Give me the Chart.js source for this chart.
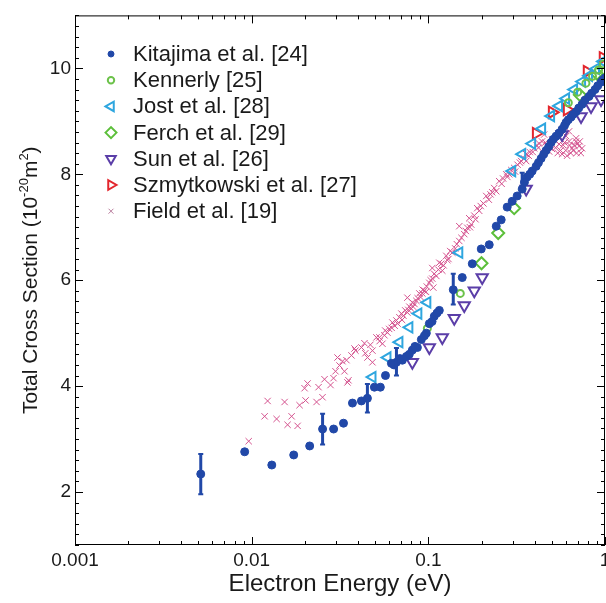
<!DOCTYPE html>
<html>
<head>
<meta charset="utf-8">
<script src="https://cdn.jsdelivr.net/npm/chart.js@4/dist/chart.umd.min.js"></script>
<style>
html, body { margin: 0; padding: 0; background: #fff; overflow: hidden; }
#wrap { width: 620px; height: 603px; }
</style>
</head>
<body>
<div id="wrap"><canvas id="chart" width="620" height="603"></canvas></div>
<script>
// Eixos
const xMajorTicks = [0.001, 0.01, 0.1, 1];
const xTickLabels = ['0.001', '0.01', '0.1', '1'];
const yMajorTicks = [2, 4, 6, 8, 10];
const yTickLabels = ['2', '4', '6', '8', '10'];

// Kitajima et al. [24]
const kitE = [0.00515, 0.00913, 0.0130, 0.0173, 0.0213, 0.0252, 0.0291, 0.0331, 0.0372, 0.0418,
  0.0452, 0.0495, 0.0535, 0.0572, 0.0618, 0.0660, 0.0713, 0.0751, 0.0812, 0.0867,
  0.0913, 0.0974, 0.1013, 0.1081, 0.1154, 0.1384, 0.1556, 0.1773, 0.1993, 0.2212,
  0.2423, 0.2585, 0.2795, 0.2983, 0.3183, 0.3398, 0.3626, 0.3870, 0.4076, 0.4350,
  0.4642, 0.4953, 0.5287, 0.5716, 0.6021, 0.6426, 0.6858, 0.7416, 0.8121, 0.8780,
  0.9493, 1.0,
  0.064, 0.069, 0.078, 0.084, 0.095, 0.105, 0.112, 0.35, 0.375, 0.42,
  0.45, 0.48, 0.51, 0.55, 0.59, 0.62, 0.66, 0.71, 0.77, 0.84,
  0.91, 0.97];
const kitQ = [2.34, 2.76, 2.51, 2.70, 2.87, 3.19, 3.19, 3.30, 3.68, 3.72,
  3.77, 3.98, 3.98, 4.20, 4.43, 4.45, 4.49, 4.56, 4.68, 4.73,
  4.88, 5.00, 5.18, 5.32, 5.43, 5.82, 6.05, 6.31, 6.59, 6.67,
  7.02, 7.14, 7.38, 7.49, 7.59, 7.72, 7.95, 8.06, 8.15, 8.30,
  8.45, 8.60, 8.72, 8.85, 8.98, 9.08, 9.18, 9.32, 9.47, 9.60,
  9.74, 9.82,
  4.40, 4.52, 4.60, 4.75, 4.95, 5.22, 5.38, 7.85, 8.00, 8.22,
  8.38, 8.52, 8.66, 8.78, 8.92, 9.03, 9.13, 9.25, 9.40, 9.53,
  9.67, 9.78];
// barras de erro (Kitajima)
const errE = [0.00515, 0.0252, 0.0452, 0.0660, 0.1384, 0.3398];
const errQ = [2.34, 3.19, 3.77, 4.46, 5.83, 7.85];
const errD = [0.38, 0.29, 0.27, 0.26, 0.29, 0.18];

// Kennerly [25]
const kenE = [0.0987, 0.1517, 0.62, 0.70, 0.78, 0.85, 0.92, 0.98];
const kenQ = [5.09, 5.75, 9.35, 9.55, 9.72, 9.85, 9.97, 10.08];

// Jost et al. [28]
const jostE = [0.0483, 0.0587, 0.0686, 0.0781, 0.0878, 0.0987, 0.1497, 0.2983, 0.3398, 0.3870,
  0.4406, 0.4953, 0.5496, 0.6021, 0.6683, 0.7416, 0.8121, 0.8897, 0.9743];
const jostQ = [4.17, 4.54, 4.83, 5.11, 5.37, 5.58, 6.52, 8.06, 8.38, 8.58,
  8.86, 9.10, 9.29, 9.43, 9.60, 9.75, 9.86, 9.99, 10.13];

// Ferch et al. [29]
const ferchE = [0.200, 0.2486, 0.3062, 0.72, 0.90];
const ferchQ = [6.32, 6.89, 7.36, 9.50, 9.90];

// Sun et al. [26]
const sunE = [0.0812, 0.1013, 0.1200, 0.1402, 0.1597, 0.1820, 0.2018, 0.3579, 0.5716, 0.7319, 0.8337, 0.9493];
const sunQ = [4.45, 4.73, 4.92, 5.28, 5.52, 5.80, 6.05, 7.72, 8.75, 9.09, 9.28, 9.41];

// Szmytkowski et al. [27]
const szmE = [0.4076, 0.5019, 0.6100, 0.7912, 0.9743];
const szmQ = [8.77, 9.17, 9.22, 9.94, 10.20];

// Field et al. [19]
const fieldE = [0.00962, 0.01184, 0.01231, 0.01384, 0.01536, 0.01597, 0.01683, 0.01820, 0.01867, 0.01993,
  0.02019, 0.02073, 0.02330, 0.02391, 0.02518, 0.02585, 0.02795, 0.02906, 0.02983, 0.03062,
  0.03142, 0.03267, 0.03353, 0.03441, 0.03486, 0.03532, 0.03673, 0.03819, 0.03869, 0.04183,
  0.04349, 0.04523, 0.04827, 0.04827, 0.05084, 0.05287, 0.05642, 0.05867, 0.0600, 0.06261,
  0.0645, 0.06596, 0.06859, 0.07040, 0.07226, 0.0740, 0.07610, 0.07610, 0.07811, 0.0800,
  0.08121, 0.0835, 0.08556, 0.08896, 0.0905, 0.09250, 0.0950, 0.0980, 0.1013, 0.1053,
  0.1053, 0.1067, 0.1110, 0.1154, 0.1184, 0.1200, 0.1264, 0.1300, 0.1367, 0.1420,
  0.1497, 0.1497, 0.1540, 0.1597, 0.1661, 0.1704, 0.1750, 0.1820, 0.1891, 0.1941,
  0.2050, 0.2127, 0.2250, 0.2360, 0.2423, 0.2518, 0.2650, 0.2759, 0.2868, 0.2950,
  0.3062, 0.3200, 0.3353, 0.3480, 0.3579, 0.3579, 0.3750, 0.3971, 0.4100, 0.4238,
  0.4400, 0.4523, 0.4700, 0.4827, 0.5019, 0.5250, 0.5496, 0.5600, 0.5716, 0.5900,
  0.6021, 0.6261, 0.6261, 0.6400, 0.6510, 0.6700, 0.6858, 0.6858, 0.7130, 0.7416,
  0.044, 0.047, 0.053, 0.055, 0.057, 0.062, 0.067, 0.071, 0.077, 0.082,
  0.087, 0.093, 0.097, 0.103, 0.108, 0.114, 0.122, 0.128, 0.133, 0.145,
  0.163, 0.172, 0.185, 0.198, 0.22, 0.23, 0.26, 0.28, 0.31, 0.33,
  0.37, 0.39, 0.42, 0.46, 0.50, 0.53, 0.54, 0.58, 0.60, 0.61,
  0.63, 0.66, 0.69, 0.70, 0.72, 0.73];
const fieldQ = [2.96, 3.43, 3.72, 3.38, 3.70, 3.27, 3.43, 3.25, 3.64, 3.96,
  3.73, 4.05, 3.70, 3.98, 3.79, 4.13, 4.02, 4.15, 4.28, 4.54,
  4.39, 4.47, 4.28, 4.49, 4.07, 4.11, 4.58, 4.71, 4.67, 4.73,
  4.81, 4.54, 4.67, 4.45, 4.92, 4.92, 4.96, 5.01, 5.08, 5.20,
  5.14, 5.24, 5.30, 5.37, 5.33, 5.43, 5.39, 5.67, 5.50, 5.46,
  5.58, 5.55, 5.61, 5.75, 5.68, 5.75, 5.80, 5.88, 5.95, 6.03,
  6.23, 5.86, 6.08, 6.33, 6.31, 6.18, 6.46, 6.40, 6.52, 6.60,
  6.74, 7.02, 6.80, 6.87, 6.99, 7.17, 7.05, 7.22, 7.36, 7.31,
  7.45, 7.59, 7.62, 7.74, 7.68, 7.87, 7.92, 8.00, 8.00, 8.08,
  8.12, 8.18, 8.25, 8.30, 8.38, 8.25, 8.42, 8.49, 8.55, 8.58,
  8.62, 8.75, 8.55, 8.43, 8.66, 8.50, 8.57, 8.45, 8.38, 8.60,
  8.72, 8.81, 8.62, 8.40, 8.49, 8.55, 8.62, 8.68, 8.53, 8.49,
  4.62, 4.78, 4.85, 4.80, 5.05, 5.10, 5.18, 5.25, 5.44, 5.50,
  5.66, 5.82, 5.78, 6.00, 6.12, 6.20, 6.28, 6.38, 6.55, 6.68,
  6.93, 7.00, 7.15, 7.40, 7.52, 7.66, 7.82, 7.95, 8.05, 8.22,
  8.35, 8.42, 8.50, 8.60, 8.48, 8.62, 8.40, 8.55, 8.45, 8.35,
  8.55, 8.45, 8.40, 8.58, 8.62, 8.40];

const FONT = '"Liberation Sans", Arial, Helvetica, sans-serif';
const TRANSP = 'rgba(0,0,0,0)';

function pts(xs, ys) {
    return xs.map((x, i) => ({ x: x, y: ys[i] }));
}

// Moldura com marcas para dentro
const framePlugin = {
    id: 'frame',
    afterDatasetsDraw(chart) {
        const { ctx, chartArea: ca, scales: { x, y } } = chart;
        ctx.save();
        ctx.strokeStyle = '#000';
        ctx.lineWidth = 1;
        ctx.strokeRect(ca.left + 0.5, ca.top + 0.5, ca.right - ca.left - 1, ca.bottom - ca.top - 1);
        ctx.beginPath();
        for (let d = -3; d <= 0; d++) {
            for (let k = 1; k <= 9; k++) {
                const v = k * Math.pow(10, d);
                if (v < x.min || v > x.max) continue;
                const px = Math.round(x.getPixelForValue(v)) + 0.5;
                const len = k === 1 ? 8 : 4;
                ctx.moveTo(px, ca.bottom); ctx.lineTo(px, ca.bottom - len);
                ctx.moveTo(px, ca.top); ctx.lineTo(px, ca.top + len);
            }
        }
        for (let i = 5; i <= 55; i++) {
            const v = i / 5;
            const py = Math.round(y.getPixelForValue(v)) + 0.5;
            const len = (i % 10 === 0) ? 8 : 4;
            ctx.moveTo(ca.left, py); ctx.lineTo(ca.left + len, py);
            ctx.moveTo(ca.right, py); ctx.lineTo(ca.right - len, py);
        }
        ctx.stroke();
        ctx.restore();
    }
};

// Barras de erro
const errorBarPlugin = {
    id: 'errorBars',
    afterDatasetsDraw(chart) {
        const { ctx, scales: { x, y } } = chart;
        ctx.save();
        ctx.strokeStyle = '#2148a8';
        errE.forEach((e, i) => {
            const px = x.getPixelForValue(e);
            const top = y.getPixelForValue(errQ[i] + errD[i]);
            const bot = y.getPixelForValue(errQ[i] - errD[i]);
            ctx.lineWidth = 3;
            ctx.beginPath();
            ctx.moveTo(px, top); ctx.lineTo(px, bot);
            ctx.stroke();
            ctx.lineWidth = 2;
            ctx.beginPath();
            ctx.moveTo(px - 2.5, top); ctx.lineTo(px + 2.5, top);
            ctx.moveTo(px - 2.5, bot); ctx.lineTo(px + 2.5, bot);
            ctx.stroke();
        });
        ctx.restore();
    }
};

// Legenda dentro da área do gráfico
const legendPlugin = {
    id: 'insideLegend',
    afterDraw(chart) {
        const { ctx } = chart;
        const startY = 54, step = 26.2, markX = 111, textX = 133;
        ctx.save();
        ctx.font = '22px ' + FONT;
        ctx.textBaseline = 'middle';
        ctx.textAlign = 'left';
        chart.data.datasets.forEach((ds, i) => {
            const yy = startY + i * step;
            ctx.strokeStyle = ds.legendColor || ds.borderColor;
            ctx.fillStyle = ds.backgroundColor;
            ctx.lineWidth = ds.borderWidth;
            Chart.helpers.drawPoint(ctx, {
                pointStyle: ds.pointStyle,
                radius: ds.legendRadius,
                rotation: ds.pointRotation || 0,
                borderWidth: ds.borderWidth
            }, markX, yy);
            ctx.fillStyle = '#1a1a1a';
            ctx.fillText(ds.label, textX, yy + 1);
        });
        ctx.restore();
    }
};

// Título do eixo Y com sobrescritos
const yTitleParts = ['Total Cross Section (10', '-20', 'm', '2', ')'];
const yTitleSup = [false, true, false, true, false];
const yTitlePlugin = {
    id: 'yTitle',
    afterDraw(chart) {
        const { ctx, chartArea: ca } = chart;
        const big = '21px ' + FONT, small = '13px ' + FONT;
        ctx.save();
        ctx.translate(29, (ca.top + ca.bottom) / 2);
        ctx.rotate(-Math.PI / 2);
        ctx.fillStyle = '#1a1a1a';
        ctx.textBaseline = 'alphabetic';
        let total = 0;
        const widths = yTitleParts.map((t, i) => {
            ctx.font = yTitleSup[i] ? small : big;
            const w = ctx.measureText(t).width;
            total += w;
            return w;
        });
        let cx = -total / 2;
        yTitleParts.forEach((t, i) => {
            ctx.font = yTitleSup[i] ? small : big;
            ctx.fillText(t, cx, yTitleSup[i] ? -1 : 8);
            cx += widths[i];
        });
        ctx.restore();
    }
};

const ctx = document.getElementById('chart').getContext('2d');
new Chart(ctx, {
    type: 'scatter',
    data: {
        datasets: [
            {
                label: 'Kitajima et al. [24]',
                data: pts(kitE, kitQ),
                pointStyle: 'circle', pointRadius: 4, legendRadius: 3,
                borderColor: '#2148a8', backgroundColor: '#2148a8', borderWidth: 1
            },
            {
                label: 'Kennerly [25]',
                data: pts(kenE, kenQ),
                pointStyle: 'circle', pointRadius: 3.5, legendRadius: 3.2,
                borderColor: '#6cc24a', backgroundColor: TRANSP, borderWidth: 2
            },
            {
                label: 'Jost et al. [28]',
                data: pts(jostE, jostQ),
                pointStyle: 'triangle', pointRotation: -90, pointRadius: 6, legendRadius: 5.5,
                borderColor: '#2ea6df', backgroundColor: TRANSP, borderWidth: 2
            },
            {
                label: 'Ferch et al. [29]',
                data: pts(ferchE, ferchQ),
                pointStyle: 'rectRot', pointRadius: 6, legendRadius: 5.5,
                borderColor: '#5cbf3a', backgroundColor: TRANSP, borderWidth: 2
            },
            {
                label: 'Sun et al. [26]',
                data: pts(sunE, sunQ),
                pointStyle: 'triangle', pointRotation: 180, pointRadius: 6.5, legendRadius: 5.5,
                borderColor: '#5b3ea8', backgroundColor: TRANSP, borderWidth: 2
            },
            {
                label: 'Szmytkowski et al. [27]',
                data: pts(szmE, szmQ),
                pointStyle: 'triangle', pointRotation: 90, pointRadius: 6.5, legendRadius: 5.5,
                borderColor: '#e3262d', backgroundColor: TRANSP, borderWidth: 2
            },
            {
                label: 'Field et al. [19]',
                data: pts(fieldE, fieldQ),
                pointStyle: 'crossRot', pointRadius: 4.5, legendRadius: 3.5,
                borderColor: '#d4528e', legendColor: '#b87c9c', backgroundColor: TRANSP, borderWidth: 1
            }
        ]
    },
    options: {
        responsive: false,
        animation: false,
        devicePixelRatio: 1,
        layout: { padding: { top: 13, right: 15, left: 0, bottom: 0 } },
        plugins: {
            legend: { display: false },
            tooltip: { enabled: false }
        },
        scales: {
            x: {
                type: 'logarithmic',
                min: 0.001,
                max: 1,
                grid: { display: false, drawTicks: false },
                border: { display: false },
                afterBuildTicks: s => { s.ticks = xMajorTicks.map(v => ({ value: v })); },
                afterFit: s => { s.height = 58; },
                ticks: {
                    autoSkip: false,
                    maxRotation: 0,
                    padding: 4,
                    color: '#1a1a1a',
                    font: { family: FONT, size: 19 },
                    callback: v => {
                        const i = xMajorTicks.indexOf(v);
                        return i >= 0 ? xTickLabels[i] : '';
                    }
                },
                title: {
                    display: true,
                    text: 'Electron Energy (eV)',
                    color: '#1a1a1a',
                    font: { family: FONT, size: 24 },
                    padding: { top: 0, bottom: 4 }
                }
            },
            y: {
                min: 1,
                max: 11,
                grid: { display: false, drawTicks: false },
                border: { display: false },
                afterBuildTicks: s => { s.ticks = yMajorTicks.map(v => ({ value: v })); },
                afterFit: s => { s.width = 75; },
                ticks: {
                    padding: 4,
                    color: '#1a1a1a',
                    font: { family: FONT, size: 19 },
                    callback: v => {
                        const i = yMajorTicks.indexOf(v);
                        return i >= 0 ? yTickLabels[i] : '';
                    }
                }
            }
        }
    },
    plugins: [framePlugin, errorBarPlugin, legendPlugin, yTitlePlugin]
});
</script>
</body>
</html>
